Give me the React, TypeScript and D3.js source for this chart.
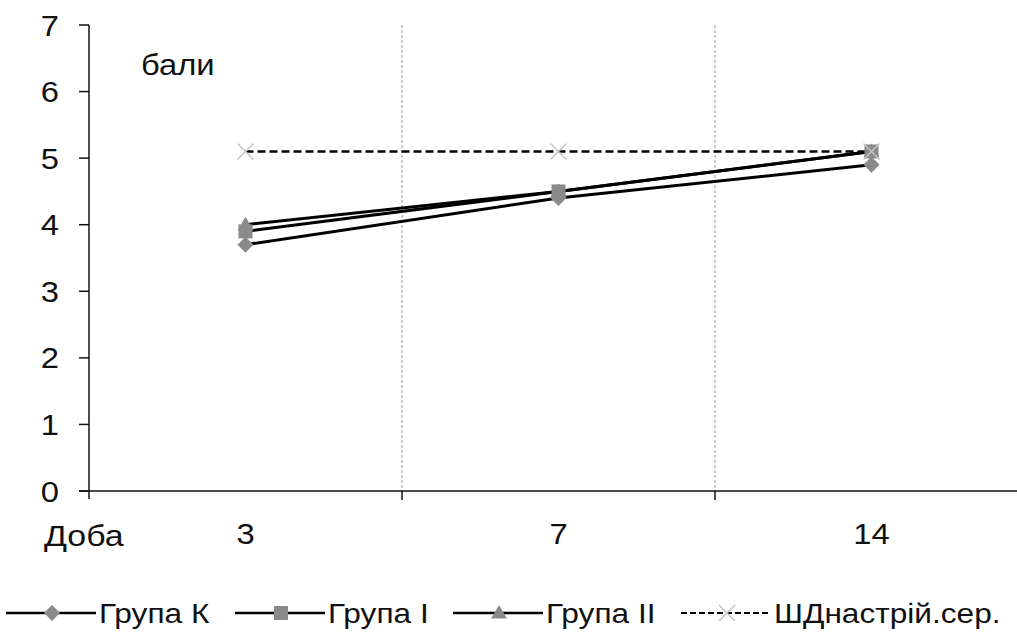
import React from "react";
import * as d3 from "d3";

const categories = ["3", "7", "14"];
const groupK = [3.7, 4.4, 4.9];
const groupI = [3.9, 4.5, 5.1];
const groupII = [4.0, 4.5, 5.1];
const moodAvg = [5.1, 5.1, 5.1];
const yTicks = [0, 1, 2, 3, 4, 5, 6, 7];

const W = 1017;
const H = 636;
const left = 89;
const top = 25;
const bottom = 491;
const band = 313;

const x = d3.scaleBand<string>().domain(categories).range([left, left + band * categories.length]).paddingInner(0).paddingOuter(0);
const y = d3.scaleLinear().domain([0, 7]).range([bottom, top]);

const FONT = "'Liberation Sans', Arial, sans-serif";
const MARK = "#8a8a8a";
const STRETCH = 1.13;

type Series = { name: string; values: number[]; marker: "diamond" | "square" | "triangle" | "x"; dashed?: boolean };
const series: Series[] = [
  { name: "Група К", values: groupK, marker: "diamond" },
  { name: "Група І", values: groupI, marker: "square" },
  { name: "Група ІІ", values: groupII, marker: "triangle" },
  { name: "ШДнастрій.сер.", values: moodAvg, marker: "x", dashed: true },
];

// Text drawn slightly wide, as in the chart's original rendering
function Label({ x: tx, y: ty, size, anchor = "start", children }: { x: number; y: number; size: number; anchor?: string; children: React.ReactNode }) {
  return (
    <text transform={`translate(${tx},${ty}) scale(${STRETCH},1)`} textAnchor={anchor} fontSize={size} fill="#111">
      {children}
    </text>
  );
}

function Marker({ kind, cx, cy }: { kind: Series["marker"]; cx: number; cy: number }) {
  if (kind === "diamond") {
    const s = 8;
    return <path d={`M${cx},${cy - s}L${cx + s},${cy}L${cx},${cy + s}L${cx - s},${cy}Z`} fill={MARK} />;
  }
  if (kind === "square") {
    const s = 7;
    return <rect x={cx - s} y={cy - s} width={2 * s} height={2 * s} fill={MARK} />;
  }
  if (kind === "triangle") {
    const s = 8;
    return <path d={`M${cx},${cy - s}L${cx + s},${cy + s * 0.7}L${cx - s},${cy + s * 0.7}Z`} fill={MARK} />;
  }
  const s = 8;
  return (
    <path
      d={`M${cx - s},${cy - s}L${cx + s},${cy + s}M${cx + s},${cy - s}L${cx - s},${cy + s}`}
      stroke="#c4c4c4"
      strokeWidth={1.5}
      fill="none"
    />
  );
}

export default function App() {
  const line = d3
    .line<number>()
    .x((_, i) => (x(categories[i]) as number) + x.bandwidth() / 2)
    .y((v) => y(v));

  const boundaries = categories.slice(1).map((c) => x(c) as number);

  const legendItems = [
    { s: series[0], x0: 6, text: "Група К" },
    { s: series[1], x0: 235, text: "Група І" },
    { s: series[2], x0: 453, text: "Група ІІ" },
    { s: series[3], x0: 681, text: "ШДнастрій.сер." },
  ];

  return (
    <svg width={W} height={H} style={{ position: "absolute", left: 0, top: 0, background: "#fff" }} fontFamily={FONT}>
      <rect width={W} height={H} fill="#fff" />
      {/* vertical gridlines between categories */}
      {boundaries.map((bx) => (
        <line key={bx} x1={bx} x2={bx} y1={top} y2={bottom} stroke="#9a9a9a" strokeWidth={1} strokeDasharray="3,2" />
      ))}
      {/* y axis */}
      <line x1={left} x2={left} y1={top} y2={bottom + 8} stroke="#111" strokeWidth={1.5} />
      {yTicks.map((t) => (
        <g key={t}>
          <line x1={left - 10} x2={left} y1={y(t)} y2={y(t)} stroke="#111" strokeWidth={1.5} />
          <Label x={59} y={y(t) + 10.5} size={29} anchor="end">
            {t}
          </Label>
        </g>
      ))}
      {/* x axis */}
      <line x1={left - 10} x2={W} y1={bottom} y2={bottom} stroke="#111" strokeWidth={1.5} />
      {boundaries.map((bx) => (
        <line key={"t" + bx} x1={bx} x2={bx} y1={bottom} y2={bottom + 9} stroke="#111" strokeWidth={1.5} />
      ))}
      {categories.map((c) => (
        <Label key={c} x={(x(c) as number) + x.bandwidth() / 2} y={544} size={29} anchor="middle">
          {c}
        </Label>
      ))}
      <Label x={44} y={546} size={30}>
        Доба
      </Label>
      <Label x={141} y={75} size={29}>
        бали
      </Label>

      {/* series */}
      {series.map((s) => (
        <path
          key={s.name}
          d={line(s.values) || ""}
          fill="none"
          stroke="#000"
          strokeWidth={s.dashed ? 2.5 : 3}
          strokeDasharray={s.dashed ? "8,4" : undefined}
        />
      ))}
      {series.map((s) => (
        <g key={"m" + s.name}>
          {s.values.map((v, i) => (
            <Marker key={i} kind={s.marker} cx={(x(categories[i]) as number) + x.bandwidth() / 2} cy={y(v)} />
          ))}
        </g>
      ))}

      {/* legend */}
      {legendItems.map((it) => {
        const ly = 613;
        return (
          <g key={it.text}>
            <line
              x1={it.x0}
              x2={it.x0 + 90}
              y1={ly}
              y2={ly}
              stroke="#000"
              strokeWidth={it.s.dashed ? 2 : 2.5}
              strokeDasharray={it.s.dashed ? "6,3" : undefined}
            />
            <Marker kind={it.s.marker} cx={it.x0 + 46} cy={ly} />
            <Label x={it.x0 + 93} y={ly + 10} size={28}>
              {it.text}
            </Label>
          </g>
        );
      })}
    </svg>
  );
}
